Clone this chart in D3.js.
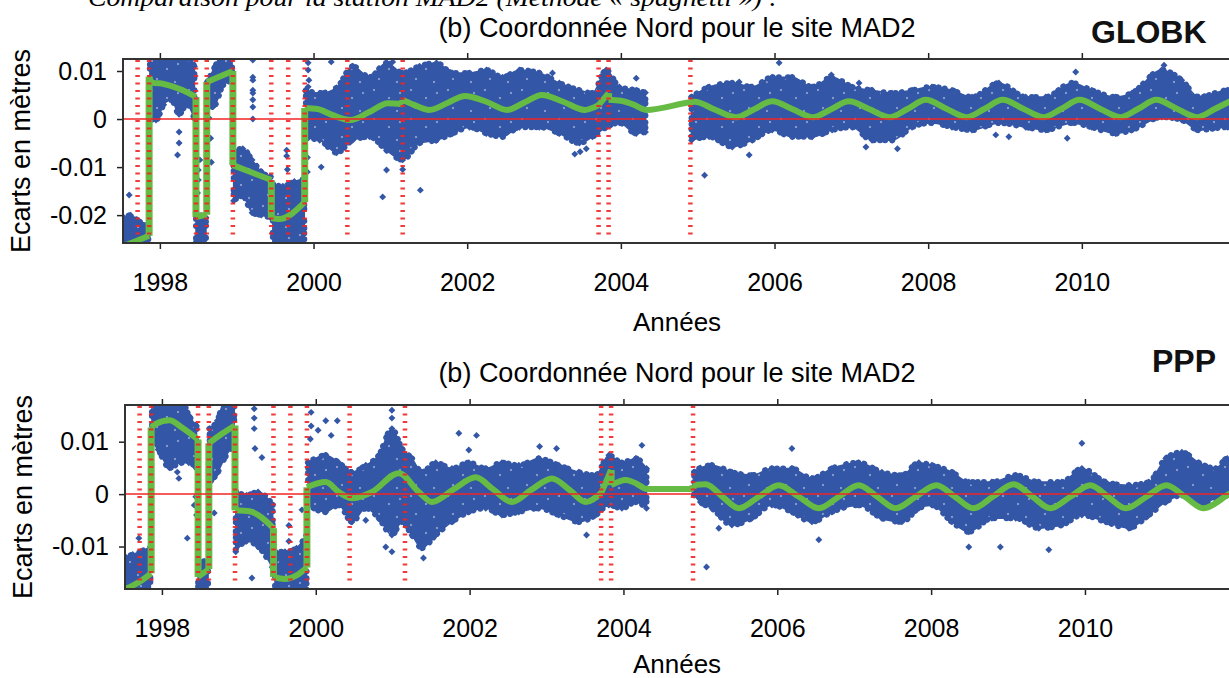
<!DOCTYPE html>
<html>
<head>
<meta charset="utf-8">
<script src="https://cdn.jsdelivr.net/npm/d3@7"></script>
<style>body{margin:0;background:#fff;}</style>
</head>
<body>
<script>
// ---- data ----
var xTicks = [1998, 2000, 2002, 2004, 2006, 2008, 2010];
var xDomain = [1997.52, 2012];

// years of the red dashed break lines
var breakYears = [1997.71, 1997.86, 1998.47, 1998.61, 1998.95, 1999.45, 1999.67, 1999.885, 2000.44, 2001.16, 2003.71, 2003.84, 2004.905];

// GLOBK scatter cloud : [year, upper edge, lower edge], null = gap
var globkCloud = [
  [1997.52,-0.0205,-0.027],[1997.62,-0.0200,-0.027],[1997.72,-0.0212,-0.027],[1997.85,-0.0218,-0.027], null,
  [1997.87,0.014,0.0],[1997.95,0.014,-0.0002],[1998.05,0.014,0.003],[1998.15,0.014,0.004],[1998.25,0.013,0.001],[1998.35,0.013,0.003],[1998.45,0.011,0.0], null,
  [1998.47,-0.0195,-0.027],[1998.6,-0.0205,-0.027], null,
  [1998.62,0.0078,0.0022],[1998.72,0.011,0.003],[1998.82,0.014,0.007],[1998.94,0.014,0.008], null,
  [1998.96,-0.0065,-0.0170],[1999.08,-0.0062,-0.0160],[1999.2,-0.0085,-0.0195],[1999.32,-0.011,-0.020],[1999.44,-0.012,-0.0205], null,
  [1999.47,-0.0135,-0.027],[1999.6,-0.0140,-0.027],[1999.75,-0.0130,-0.027],[1999.88,-0.0125,-0.027], null,
  [1999.9,0.006,-0.004],[2000.08,0.0054,-0.0044],[2000.3,0.0065,-0.007],[2000.51,0.011,-0.0044],[2000.73,0.0087,-0.0037],
  [2000.95,0.0117,-0.0065],[2001.16,0.0096,-0.0085],[2001.38,0.011,-0.005],[2001.6,0.0117,-0.0044],[2001.81,0.0096,-0.003],
  [2002.03,0.0096,-0.0017],[2002.25,0.0102,-0.003],[2002.46,0.0087,-0.0037],[2002.68,0.0102,-0.0017],[2002.94,0.0096,-0.0017],
  [2003.2,0.0075,-0.003],[2003.46,0.006,-0.005],[2003.63,0.0054,-0.0037],[2003.81,0.0102,-0.0017],[2003.98,0.0067,-0.0008],
  [2004.2,0.006,-0.003],[2004.32,0.0055,-0.0027], null,
  [2004.92,0.0046,-0.0044],[2005.15,0.0067,-0.0037],[2005.45,0.0075,-0.0058],[2005.71,0.0067,-0.0044],[2005.97,0.0087,-0.0023],
  [2006.23,0.0087,-0.0037],[2006.49,0.0067,-0.0037],[2006.75,0.0087,-0.0023],[2007.01,0.0067,-0.0017],[2007.27,0.006,-0.0044],
  [2007.53,0.0054,-0.0044],[2007.79,0.006,-0.0017],[2008.05,0.0067,-0.0008],[2008.31,0.006,-0.0017],[2008.57,0.0046,-0.0023],
  [2008.92,0.0075,-0.0008],[2009.27,0.0046,-0.0017],[2009.53,0.0046,-0.0023],[2009.87,0.0075,-0.0008],[2010.13,0.006,-0.0017],
  [2010.44,0.0046,-0.003],[2010.65,0.0054,-0.0023],[2011.04,0.0102,0.0004],[2011.3,0.0081,-0.0002],[2011.52,0.0046,-0.0023],
  [2011.9,0.006,-0.0017],[2012,0.006,-0.0017]
];

// GLOBK isolated points : [year, value]
var globkOutliers = [
  [1997.6,-0.0158],[1998.25,-0.0027],[1998.25,-0.005],[1998.23,-0.0075],
  [1998.5,-0.0106],[1998.5,-0.0127],[1998.49,-0.0154],[1998.52,-0.0085],
  [1998.66,-0.004],[1998.67,-0.009],[1998.64,0.0002],
  [1999.21,0.0123],[1999.21,0.0087],[1999.21,0.0081],[1999.21,0.006],[1999.21,0.0054],[1999.21,0.004],[1999.21,0.0025],[1999.21,0.0],
  [1999.65,-0.0065],[1999.65,-0.0077],[1999.66,-0.0105],
  [1999.93,0.0117],[1999.93,0.0102],[1999.94,0.0081],[1999.93,0.0067],[1999.92,-0.008],[1999.92,-0.011],
  [2000.1,-0.010],[2000.23,0.0119],[2000.9,-0.0162],[2001.03,0.0119],[2000.95,-0.0106],[2001.16,-0.0105],
  [2001.39,-0.0148],[2003.47,-0.0068],[2003.55,-0.0062],[2003.4,-0.0073],[2003.11,0.0096],[2004.2,0.0085],
  [2005.09,-0.0117],[2005.67,-0.0075],[2005.54,0.0077],[2006.06,0.0117],[2006.74,0.0092],[2007.1,0.0075],
  [2007.19,-0.0058],[2007.6,-0.0062],[2008.88,-0.0033],[2009.05,-0.0037],[2009.81,-0.004],[2009.92,0.0098],[2011.07,0.0112]
];

// GLOBK model (green), one array per piece between jumps
var globkModel = [
  [[1997.52,-0.0265],[1997.86,-0.0243]],
  [[1997.86,0.0088],[1997.9,0.0076],[1998.05,0.0073],[1998.25,0.0063],[1998.47,0.0046]],
  [[1998.47,-0.0204],[1998.61,-0.0199]],
  [[1998.61,0.0077],[1998.95,0.0100]],
  [[1998.95,-0.0096],[1999.45,-0.0127]],
  [[1999.45,-0.0206],[1999.55,-0.0208],[1999.885,-0.0173]],
  [[1999.885,0.0023],[2000.05,0.0021],[2000.25,0.0008],[2000.48,-0.0002],[2000.72,0.0014],[2000.97,0.0033],[2001.16,0.0031]],
  [[2001.16,0.0040],[2001.3,0.0030],[2001.51,0.0019],[2001.75,0.0034],[2001.97,0.0048],[2002.25,0.0036],[2002.52,0.0019],
   [2002.75,0.0035],[2002.97,0.0050],[2003.25,0.0036],[2003.53,0.0019],[2003.71,0.0029]],
  [[2003.71,0.0029],[2003.84,0.0054]],
  [[2003.84,0.0040],[2004.0,0.0038],[2004.15,0.0031],[2004.33,0.0019],[2004.905,0.0035],[2004.96,0.0036],[2005.22,0.0020],
   [2005.5,0.0004],[2005.73,0.0020],[2005.97,0.0037],[2006.23,0.0021],[2006.5,0.0004],[2006.73,0.0020],[2006.97,0.0037],
   [2007.23,0.0021],[2007.5,0.0004],[2007.73,0.0021],[2007.97,0.0040],[2008.23,0.0022],[2008.5,0.0004],[2008.73,0.0021],
   [2008.97,0.0040],[2009.23,0.0022],[2009.5,0.0004],[2009.73,0.0021],[2009.97,0.0040],[2010.23,0.0022],[2010.5,0.0004],
   [2010.73,0.0021],[2010.97,0.0040],[2011.23,0.0022],[2011.5,0.0004],[2011.73,0.0021],[2011.97,0.0040]]
];

// PPP scatter cloud
var pppCloud = [
  [1997.52,-0.012,-0.019],[1997.62,-0.0115,-0.019],[1997.72,-0.011,-0.019],[1997.85,-0.010,-0.019], null,
  [1997.87,0.018,0.010],[1997.95,0.018,0.0085],[1998.1,0.018,0.005],[1998.25,0.018,0.006],[1998.35,0.015,0.006],[1998.45,0.013,0.005], null,
  [1998.47,-0.0125,-0.019],[1998.6,-0.0130,-0.019], null,
  [1998.62,0.0125,0.0023],[1998.72,0.014,0.004],[1998.82,0.018,0.007],[1998.94,0.018,0.0095], null,
  [1998.96,0.0005,-0.011],[1999.1,-0.0002,-0.009],[1999.25,0.0004,-0.010],[1999.44,-0.002,-0.014], null,
  [1999.47,-0.011,-0.019],[1999.6,-0.011,-0.019],[1999.75,-0.0103,-0.019],[1999.88,-0.0078,-0.019], null,
  [1999.9,0.006,-0.0021],[2000.13,0.0074,-0.0034],[2000.3,0.006,-0.0021],[2000.47,0.0042,-0.0053],[2000.65,0.0055,-0.0027],
  [2000.82,0.0074,-0.0046],[2000.99,0.0125,-0.0078],[2001.12,0.0087,-0.0053],[2001.25,0.0068,-0.0078],[2001.38,0.0042,-0.0103],
  [2001.56,0.006,-0.0078],[2001.77,0.0049,-0.0053],[2001.99,0.006,-0.0034],[2002.21,0.0049,-0.0027],[2002.42,0.006,-0.004],
  [2002.64,0.0055,-0.0034],[2002.9,0.0068,-0.0027],[2003.16,0.0055,-0.004],[2003.42,0.0042,-0.0053],[2003.64,0.0036,-0.004],
  [2003.81,0.0074,-0.0021],[2003.98,0.006,-0.0027],[2004.16,0.0068,-0.0015],[2004.3,0.0049,-0.0027], null,
  [2004.92,0.0042,-0.0002],[2005.0,0.0050,-0.0015],[2005.15,0.0055,-0.0027],[2005.41,0.0042,-0.0059],[2005.67,0.0036,-0.0046],
  [2005.93,0.0049,-0.0021],[2006.19,0.0049,-0.0034],[2006.45,0.003,-0.0053],[2006.71,0.0049,-0.0034],[2007.06,0.006,-0.0021],
  [2007.36,0.0042,-0.0046],[2007.62,0.0036,-0.0053],[2007.84,0.006,-0.0027],[2008.01,0.0055,-0.0021],[2008.27,0.0042,-0.0053],
  [2008.49,0.0023,-0.0072],[2008.79,0.0023,-0.0046],[2009.1,0.0036,-0.0046],[2009.4,0.0023,-0.0065],[2009.7,0.0023,-0.0059],
  [2009.96,0.0049,-0.004],[2010.27,0.0023,-0.0053],[2010.57,0.0017,-0.0065],[2010.83,0.0023,-0.004],[2011.05,0.0068,-0.0015],
  [2011.26,0.008,-0.0002],[2011.48,0.006,-0.0021],[2011.7,0.0049,-0.0008],[2011.85,0.0068,-0.0002],[2012,0.0068,-0.0002]
];

var pppOutliers = [
  [1997.7,-0.0084],[1998.22,0.003],[1998.2,0.0042],[1998.42,-0.0021],[1998.44,-0.0005],[1998.33,-0.0084],[1998.45,-0.004],
  [1998.68,-0.0036],[1999.2,0.0163],[1999.2,0.0145],[1999.2,0.0125],[1999.21,0.0087],[1999.3,0.007],[1999.17,-0.016],
  [1999.65,-0.006],[1999.65,-0.009],[1999.82,-0.003],[1999.94,0.0156],[1999.94,0.013],[1999.93,0.0105],
  [2000.13,0.014],[2000.28,0.014],[2000.2,0.0112],[2000.03,0.0122],[2000.99,0.016],[2000.99,0.0145],
  [2000.91,-0.0101],[2000.99,-0.011],[2001.4,-0.0122],[2000.65,-0.005],
  [2001.86,0.0116],[2002.09,0.0112],[2001.99,0.0084],[2002.91,0.0091],[2003.13,0.0087],[2004.24,0.0093],[2006.19,0.0087],
  [2008.49,-0.0101],[2008.9,-0.0101],[2009.53,-0.0106],[2006.54,-0.0087],[2003.52,-0.0078],[2005.24,-0.0065],
  [2005.08,-0.0139],[2009.96,0.0097]
];

var pppModel = [
  [[1997.52,-0.0181],[1997.7,-0.0168],[1997.86,-0.0151]],
  [[1997.86,0.0127],[1997.92,0.0134],[1998.1,0.0141],[1998.26,0.0127],[1998.47,0.0104]],
  [[1998.47,-0.0158],[1998.61,-0.0143]],
  [[1998.61,0.0097],[1998.78,0.0115],[1998.95,0.0131]],
  [[1998.95,-0.0031],[1999.15,-0.0033],[1999.3,-0.0045],[1999.45,-0.0065]],
  [[1999.45,-0.0158],[1999.6,-0.0162],[1999.75,-0.0155],[1999.885,-0.0140]],
  [[1999.885,0.0013],[2000.13,0.0023],[2000.3,0.0004],[2000.47,-0.0008],[2000.73,0.0004],[2001.08,0.0040],[2001.34,0.0004],
   [2001.51,-0.0015],[2001.8,0.0010],[2002.08,0.0032],[2002.3,0.0010],[2002.55,-0.0015],[2002.8,0.0008],[2003.07,0.0030],
   [2003.3,0.0008],[2003.51,-0.0015],[2003.71,0.0002]],
  [[2003.71,0.0002],[2003.84,0.0046]],
  [[2003.84,0.0017],[2004.03,0.0027],[2004.17,0.0020],[2004.3,0.0010],[2004.905,0.0010]],
  [[2004.905,0.0017],[2005.07,0.0019],[2005.28,-0.0004],[2005.5,-0.0027],[2005.76,-0.0005],[2006.02,0.0017],[2006.28,-0.0005],
   [2006.54,-0.0027],[2006.8,-0.0005],[2007.06,0.0017],[2007.3,-0.0005],[2007.54,-0.0027],[2007.8,-0.0005],[2008.07,0.0017],
   [2008.31,-0.0005],[2008.55,-0.0027],[2008.81,-0.0004],[2009.07,0.0019],[2009.31,-0.0004],[2009.55,-0.0027],[2009.81,-0.0005],
   [2010.07,0.0017],[2010.3,-0.0005],[2010.53,-0.0027],[2010.8,-0.0005],[2011.06,0.0017],[2011.3,-0.0005],[2011.54,-0.0027],
   [2011.85,-0.0002],[2012,0.0012]]
];

var globkYTicks = [-0.02, -0.01, 0, 0.01];
var pppYTicks = [-0.01, 0, 0.01];
var globkZero = [[1997.52, 2004.33], [2004.9, 2012]];
var pppZero = [[1997.52, 2012]];

// ---- drawing ----
var BLUE = "#3456a6", GREEN = "#66bb44", RED = "#f22424";
var FONT = "'Liberation Sans', Arial, sans-serif";

var svg = d3.select("body").append("svg")
    .attr("width", 1229).attr("height", 678)
    .style("font-family", FONT);

var defs = svg.append("defs");
// speckled fill for the dense part of the scatter
var pat = defs.append("pattern").attr("id", "speck")
    .attr("patternUnits", "userSpaceOnUse").attr("width", 37).attr("height", 29);
pat.append("rect").attr("width", 37).attr("height", 29).attr("fill", BLUE);
[[4, 3], [19, 11], [9, 21], [30, 6], [27, 24]].forEach(function(p) {
  pat.append("path").attr("fill", "#fff").attr("opacity", 0.55)
    .attr("d", "M" + p[0] + "," + (p[1] - 1.2) + "l1.2,1.2l-1.2,1.2l-1.2,-1.2z");
});

// cut-off italic caption at the very top
svg.append("text").attr("x", 88).attr("y", 6)
  .attr("font-family", "'Liberation Serif', 'Times New Roman', serif")
  .attr("font-style", "italic").attr("font-size", 26)
  .attr("textLength", 690).attr("lengthAdjust", "spacingAndGlyphs")
  .text("Comparaison pour la station MAD2 (Méthode « spaghetti ») :");

var diamond = d3.symbol().type(d3.symbolSquare).size(24);

function drawPanel(cfg, idx) {
  var x = d3.scaleLinear().domain(xDomain).range([cfg.left, cfg.left + (xDomain[1] - xDomain[0]) * cfg.ppy]);
  var y = d3.scaleLinear().domain(cfg.yDomain).range([cfg.bottom, cfg.top]);
  var g = svg.append("g");

  defs.append("clipPath").attr("id", "clip" + idx)
    .append("rect").attr("x", cfg.left).attr("y", cfg.top)
    .attr("width", 1229 - cfg.left).attr("height", cfg.bottom - cfg.top);
  var plot = g.append("g").attr("clip-path", "url(#clip" + idx + ")");

  // scatter cloud
  var area = d3.area().defined(function(d) { return d !== null; })
    .x(function(d) { return x(d[0]); })
    .y0(function(d) { return y(d[2]); })
    .y1(function(d) { return y(d[1]); })
    .curve(d3.curveMonotoneX);
  plot.append("path").datum(cfg.cloud).attr("d", area)
    .attr("fill", "url(#speck)").attr("stroke", BLUE).attr("stroke-width", 1.5);
  // ragged border
  plot.append("path").datum(cfg.cloud).attr("d", area)
    .attr("fill", "none").attr("stroke", BLUE).attr("stroke-width", 6)
    .attr("stroke-linecap", "round")
    .attr("stroke-dasharray", "0.1 6 0.1 9 0.1 4 0.1 12 0.1 7 0.1 5");

  var edges = [];
  cfg.cloud.forEach(function(d) { if (d) { edges.push([d[0], d[1]]); edges.push([d[0], d[2]]); } });
  plot.selectAll(".edge").data(edges.concat(cfg.outliers)).enter().append("path")
    .attr("d", diamond).attr("fill", BLUE)
    .attr("transform", function(d) { return "translate(" + x(d[0]) + "," + y(d[1]) + ") rotate(45)"; });

  // green model
  var line = d3.line().x(function(d) { return x(d[0]); }).y(function(d) { return y(d[1]); })
    .curve(d3.curveMonotoneX);
  plot.selectAll(".model").data(cfg.model).enter().append("path")
    .attr("d", line).attr("fill", "none").attr("stroke", GREEN).attr("stroke-width", 6);
  for (var i = 0; i + 1 < cfg.model.length; i++) {
    var a = cfg.model[i][cfg.model[i].length - 1], b = cfg.model[i + 1][0];
    plot.append("line").attr("x1", x(a[0])).attr("x2", x(b[0]))
      .attr("y1", y(a[1])).attr("y2", y(b[1]))
      .attr("stroke", GREEN).attr("stroke-width", 7);
  }

  // zero line
  plot.selectAll(".zero").data(cfg.zero).enter().append("line")
    .attr("x1", function(d) { return x(d[0]); }).attr("x2", function(d) { return x(d[1]); })
    .attr("y1", y(0)).attr("y2", y(0))
    .attr("stroke", RED).attr("stroke-width", 1.5);

  // break lines
  plot.selectAll(".brk").data(breakYears).enter().append("line")
    .attr("x1", function(d) { return x(d); }).attr("x2", function(d) { return x(d); })
    .attr("y1", cfg.top + 1).attr("y2", cfg.bottom - 6)
    .attr("stroke", RED).attr("stroke-width", 4.5)
    .attr("stroke-dasharray", "2 5.5").attr("opacity", 0.9);

  // axes
  var ax = g.append("g").attr("transform", "translate(0," + cfg.bottom + ")")
    .call(d3.axisBottom(x).tickValues(xTicks).tickSize(6).tickSizeOuter(0).tickPadding(24).tickFormat(d3.format("d")));
  var axTop = g.append("g").attr("transform", "translate(0," + cfg.top + ")")
    .call(d3.axisTop(x).tickValues(xTicks).tickSize(6).tickSizeOuter(0).tickFormat(""));
  var ay = g.append("g").attr("transform", "translate(" + cfg.left + ",0)")
    .call(d3.axisLeft(y).tickValues(cfg.yTicks).tickSize(6).tickSizeOuter(0).tickPadding(10)
      .tickFormat(function(d) { return String(Math.round(d * 100) / 100); }));
  [ax, axTop, ay].forEach(function(a) {
    a.select(".domain").remove();
    a.selectAll(".tick line").attr("stroke", "#222").attr("stroke-width", 1.5);
    a.selectAll("text").attr("font-size", 25).attr("font-family", FONT).attr("fill", "#000");
  });

  // frame
  g.append("rect").attr("x", cfg.left).attr("y", cfg.top)
    .attr("width", x.range()[1] - cfg.left).attr("height", cfg.bottom - cfg.top)
    .attr("fill", "none").attr("stroke", "#333").attr("stroke-width", 2);

  // texts
  g.append("text").attr("x", 677).attr("y", cfg.titleY).attr("text-anchor", "middle")
    .attr("font-size", 27).text("(b) Coordonnée Nord pour le site MAD2");
  g.append("text").attr("x", 677).attr("y", cfg.xlabY).attr("text-anchor", "middle")
    .attr("font-size", 26).text("Années");
  g.append("text").attr("transform", "translate(" + cfg.ylabX + "," + (cfg.top + cfg.bottom) / 2 + ") rotate(-90)")
    .attr("text-anchor", "middle").attr("font-size", 27).text("Ecarts en mètres");
  g.append("text").attr("x", cfg.tagX).attr("y", cfg.tagY)
    .attr("font-family", "Arial, 'Liberation Sans', sans-serif").attr("font-weight", "bold")
    .attr("font-size", 32).attr("fill", "#111").text(cfg.tag);
}

drawPanel({
  left: 123, top: 59, bottom: 243, ppy: 76.83, yDomain: [-0.0258, 0.0125], yTicks: globkYTicks,
  cloud: globkCloud, outliers: globkOutliers, model: globkModel, zero: globkZero,
  titleY: 37, xlabY: 331, ylabX: 30, tag: "GLOBK", tagX: 1091, tagY: 43
}, 0);

drawPanel({
  left: 125, top: 405, bottom: 589, ppy: 76.92, yDomain: [-0.0181, 0.0170], yTicks: pppYTicks,
  cloud: pppCloud, outliers: pppOutliers, model: pppModel, zero: pppZero,
  titleY: 382, xlabY: 673, ylabX: 32, tag: "PPP", tagX: 1152, tagY: 372
}, 1);
</script>
</body>
</html>
